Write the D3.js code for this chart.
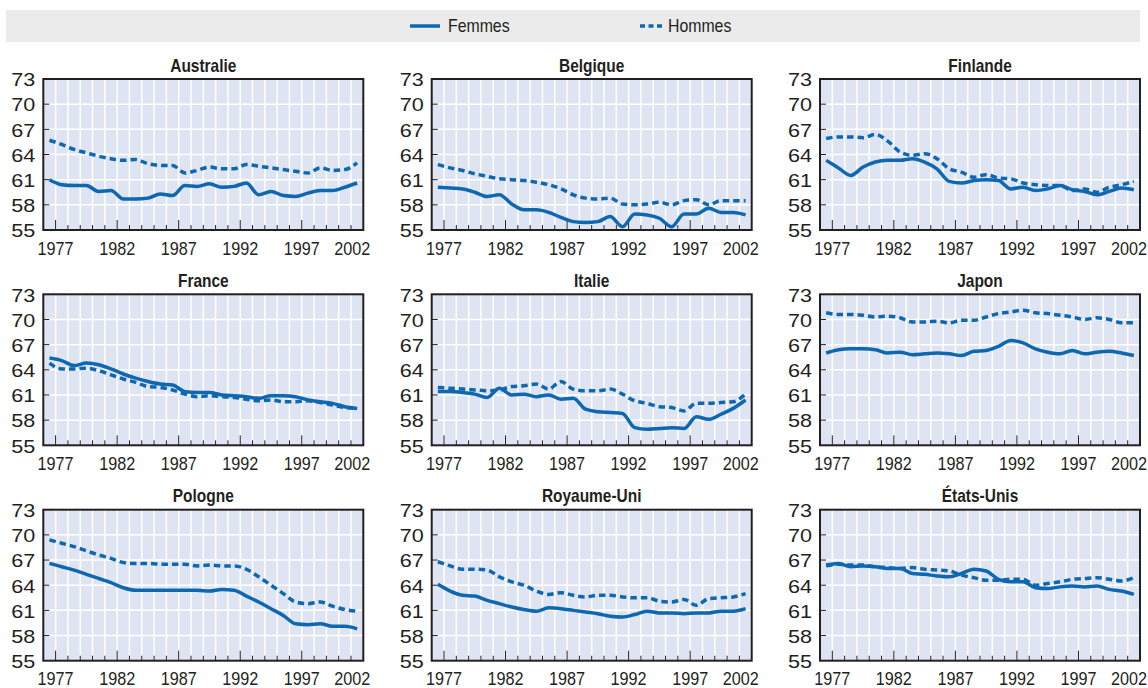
<!DOCTYPE html>
<html lang="fr">
<head>
<meta charset="utf-8">
<title>Âge moyen de sortie du marché du travail</title>
<script src="https://cdn.jsdelivr.net/npm/d3@7"></script>
<style>
  html, body { margin: 0; padding: 0; background: #ffffff; }
  svg { display: block; }
  text { font-family: "Liberation Sans", Arial, sans-serif; fill: #231f20; }
</style>
</head>
<body>
<svg id="chart" width="1148" height="688"></svg>
<script>
// Annual observations, plotted at mid-year between year-start gridlines
const years = d3.range(1976, 2002);
const yTicks = [55, 58, 61, 64, 67, 70, 73];
const xTickYears = [1977, 1982, 1987, 1992, 1997, 2002];
const seriesNames = ["Femmes", "Hommes"];

const countries = ["Australie", "Belgique", "Finlande", "France", "Italie", "Japon", "Pologne", "Royaume-Uni", "États-Unis"];

const australieFemmes = [61.0, 60.4, 60.3, 60.3, 59.6, 59.7, 58.7, 58.7, 58.8, 59.3, 59.1, 60.3, 60.2, 60.5, 60.1, 60.2, 60.6, 59.2, 59.6, 59.1, 59.0, 59.4, 59.7, 59.7, 60.1, 60.6];
const australieHommes = [65.7, 65.2, 64.6, 64.2, 63.8, 63.5, 63.3, 63.4, 62.9, 62.7, 62.7, 61.8, 62.1, 62.5, 62.3, 62.3, 62.8, 62.6, 62.4, 62.2, 62.0, 61.8, 62.4, 62.1, 62.2, 63.0];
const belgiqueFemmes = [60.1, 60.0, 59.9, 59.5, 59.0, 59.2, 58.1, 57.4, 57.4, 57.1, 56.5, 56.0, 55.9, 56.0, 56.6, 55.4, 56.9, 56.8, 56.4, 55.4, 56.9, 56.9, 57.6, 57.1, 57.1, 56.8];
const belgiqueHommes = [62.8, 62.4, 62.1, 61.7, 61.4, 61.1, 61.0, 60.9, 60.7, 60.4, 59.9, 59.2, 58.8, 58.7, 58.8, 58.1, 58.0, 58.1, 58.3, 58.0, 58.5, 58.6, 58.0, 58.5, 58.5, 58.5];
const finlandeFemmes = [63.3, 62.4, 61.5, 62.5, 63.1, 63.3, 63.3, 63.5, 63.1, 62.3, 60.8, 60.6, 60.9, 61.0, 60.9, 59.9, 60.1, 59.7, 59.9, 60.3, 59.8, 59.6, 59.2, 59.6, 60.0, 59.8];
const finlandeHommes = [65.9, 66.1, 66.1, 66.0, 66.4, 65.6, 64.3, 63.9, 64.1, 63.5, 62.3, 61.9, 61.3, 61.6, 61.2, 61.1, 60.6, 60.4, 60.3, 60.3, 59.7, 59.9, 59.5, 60.1, 60.4, 60.8];
const franceFemmes = [65.4, 65.1, 64.5, 64.8, 64.6, 64.1, 63.5, 63.0, 62.6, 62.3, 62.2, 61.4, 61.3, 61.3, 61.0, 60.9, 60.8, 60.6, 60.9, 60.9, 60.8, 60.4, 60.2, 60.0, 59.6, 59.4];
const franceHommes = [64.8, 64.1, 64.1, 64.2, 63.9, 63.4, 62.9, 62.5, 62.0, 61.9, 61.6, 61.1, 60.8, 60.9, 60.8, 60.7, 60.5, 60.3, 60.4, 60.2, 60.2, 60.3, 60.1, 59.8, 59.5, 59.4];
const italieFemmes = [61.4, 61.4, 61.3, 61.1, 60.7, 61.8, 61.0, 61.1, 60.8, 61.0, 60.5, 60.6, 59.3, 59.0, 58.9, 58.8, 57.1, 56.9, 57.0, 57.1, 57.0, 58.4, 58.1, 58.7, 59.4, 60.4];
const italieHommes = [61.9, 61.8, 61.7, 61.6, 61.5, 61.6, 62.0, 62.1, 62.3, 61.7, 62.6, 61.7, 61.5, 61.5, 61.7, 61.1, 60.3, 60.0, 59.6, 59.5, 59.1, 60.0, 60.0, 60.1, 60.2, 61.1];
const japonFemmes = [66.0, 66.4, 66.5, 66.5, 66.4, 66.0, 66.1, 65.8, 65.9, 66.0, 65.9, 65.7, 66.2, 66.3, 66.8, 67.5, 67.2, 66.5, 66.1, 65.9, 66.3, 65.9, 66.1, 66.2, 66.0, 65.7];
const japonHommes = [70.8, 70.6, 70.6, 70.5, 70.3, 70.4, 70.2, 69.7, 69.7, 69.8, 69.6, 69.9, 69.9, 70.3, 70.7, 70.9, 71.1, 70.8, 70.7, 70.5, 70.3, 70.0, 70.2, 70.0, 69.6, 69.6];
const pologneFemmes = [66.6, 66.2, 65.8, 65.3, 64.8, 64.3, 63.7, 63.4, 63.4, 63.4, 63.4, 63.4, 63.4, 63.3, 63.5, 63.4, 62.7, 62.0, 61.2, 60.4, 59.4, 59.3, 59.4, 59.1, 59.1, 58.8];
const pologneHommes = [69.4, 69.0, 68.6, 68.1, 67.6, 67.2, 66.7, 66.6, 66.6, 66.5, 66.5, 66.5, 66.3, 66.4, 66.3, 66.3, 65.9, 65.0, 64.0, 63.0, 62.0, 61.8, 62.0, 61.5, 61.1, 60.9];
const royaumeUniFemmes = [64.1, 63.3, 62.8, 62.7, 62.2, 61.8, 61.4, 61.1, 60.9, 61.3, 61.2, 61.0, 60.8, 60.6, 60.3, 60.2, 60.5, 60.9, 60.7, 60.7, 60.6, 60.7, 60.7, 60.9, 60.9, 61.2];
const royaumeUniHommes = [66.8, 66.3, 65.9, 65.9, 65.8, 65.0, 64.4, 64.0, 63.3, 62.9, 63.1, 62.8, 62.6, 62.8, 62.8, 62.6, 62.5, 62.5, 62.1, 62.0, 62.3, 61.6, 62.4, 62.5, 62.6, 63.0];
const etatsUnisFemmes = [66.4, 66.6, 66.2, 66.3, 66.2, 66.0, 66.0, 65.4, 65.3, 65.1, 65.0, 65.4, 65.9, 65.7, 64.7, 64.4, 64.4, 63.7, 63.6, 63.8, 63.9, 63.8, 63.9, 63.5, 63.3, 62.9];
const etatsUnisHommes = [66.3, 66.5, 66.4, 66.4, 66.2, 66.1, 66.0, 66.1, 65.9, 65.8, 65.7, 65.2, 64.9, 64.6, 64.6, 64.7, 64.7, 64.0, 64.2, 64.4, 64.7, 64.8, 64.9, 64.7, 64.5, 64.9];

const femmesByCountry = [australieFemmes, belgiqueFemmes, finlandeFemmes, franceFemmes, italieFemmes, japonFemmes, pologneFemmes, royaumeUniFemmes, etatsUnisFemmes];
const hommesByCountry = [australieHommes, belgiqueHommes, finlandeHommes, franceHommes, italieHommes, japonHommes, pologneHommes, royaumeUniHommes, etatsUnisHommes];

// Layout
const colLeft = [43.3, 431.7, 820];
const rowTop = [79, 294.3, 509.7];
const pw = 320, ph = 151;
const blue = "#0d68b1";
const panelFill = "#dfe4f3";
const ink = "#231f20";
const xLabelScale = 0.9;  // condensed year labels
const yLabelScale = 1.2;  // wide value labels

const svg = d3.select("#chart");

// Legend band
const legend = svg.append("g");
legend.append("rect").attr("x", 6).attr("y", 10).attr("width", 1134).attr("height", 32).attr("fill", "#ebebeb");
const legendItems = [
  { name: seriesNames[0], x1: 410, x2: 440, tx: 448, dash: null },
  { name: seriesNames[1], x1: 640, x2: 662, tx: 668, dash: "5,3.5" }
];
legendItems.forEach(it => {
  legend.append("line")
    .attr("x1", it.x1).attr("x2", it.x2).attr("y1", 26).attr("y2", 26)
    .attr("stroke", blue).attr("stroke-width", 3.5)
    .attr("stroke-dasharray", it.dash);
  legend.append("text")
    .attr("transform", `translate(${it.tx},26) scale(0.88,1)`)
    .attr("dy", "0.35em")
    .attr("font-size", 18)
    .text(it.name);
});

const x = d3.scaleLinear().domain([1976, 2002]).range([0, pw]);
const y = d3.scaleLinear().domain([55, 73]).range([ph, 0]);

const line = d3.line()
  .x((d, i) => x(years[i] + 0.5))
  .y(d => y(d))
  .curve(d3.curveMonotoneX);

countries.forEach((name, k) => {
  const g = svg.append("g")
    .attr("transform", `translate(${colLeft[k % 3]},${rowTop[Math.floor(k / 3)]})`);

  g.append("rect").attr("width", pw).attr("height", ph).attr("fill", panelFill);

  // white gridlines
  g.append("g").selectAll("line")
    .data(d3.range(1977, 2002))
    .join("line")
    .attr("x1", d => x(d)).attr("x2", d => x(d))
    .attr("y1", 0).attr("y2", ph)
    .attr("stroke", "#ffffff").attr("stroke-width", 1.5);
  g.append("g").selectAll("line")
    .data(yTicks.slice(1, -1))
    .join("line")
    .attr("x1", 0).attr("x2", pw)
    .attr("y1", d => y(d)).attr("y2", d => y(d))
    .attr("stroke", "#ffffff").attr("stroke-width", 1.5);

  // inward ticks
  g.append("g").selectAll("line")
    .data(d3.range(1977, 2002))
    .join("line")
    .attr("x1", d => x(d)).attr("x2", d => x(d))
    .attr("y1", ph)
    .attr("y2", d => ph - (xTickYears.includes(d) ? 10 : 5))
    .attr("stroke", ink).attr("stroke-width", 1);
  g.append("g").selectAll("line")
    .data(yTicks.slice(1, -1))
    .join("line")
    .attr("x1", 0).attr("x2", 6)
    .attr("y1", d => y(d)).attr("y2", d => y(d))
    .attr("stroke", ink).attr("stroke-width", 1);

  // series
  g.append("path").datum(hommesByCountry[k])
    .attr("d", line).attr("fill", "none")
    .attr("stroke", blue).attr("stroke-width", 3.5)
    .attr("stroke-dasharray", "6.5,4");
  g.append("path").datum(femmesByCountry[k])
    .attr("d", line).attr("fill", "none")
    .attr("stroke", blue).attr("stroke-width", 3.5)
    .attr("stroke-linejoin", "round");

  // frame
  g.append("rect").attr("width", pw).attr("height", ph)
    .attr("fill", "none").attr("stroke", ink).attr("stroke-width", 2);

  // axis labels
  g.append("g").selectAll("text")
    .data(yTicks)
    .join("text")
    .attr("transform", d => `translate(-8,${y(d) + 1}) scale(${yLabelScale},1)`)
    .attr("dy", "0.35em")
    .attr("text-anchor", "end").attr("font-size", 18)
    .text(d => d);
  g.append("g").selectAll("text")
    .data(xTickYears)
    .join("text")
    .attr("transform", d => d === 2002
      ? `translate(${x(d) + 7},${ph + 24.5}) scale(${xLabelScale},1)`
      : `translate(${x(d)},${ph + 24.5}) scale(${xLabelScale},1)`)
    .attr("text-anchor", d => d === 2002 ? "end" : "middle")
    .attr("font-size", 18)
    .text(d => d);

  // panel title
  g.append("text")
    .attr("transform", `translate(${pw / 2},-7.5) scale(0.86,1)`)
    .attr("text-anchor", "middle").attr("font-size", 18).attr("font-weight", "bold")
    .text(name);
});
</script>
</body>
</html>
